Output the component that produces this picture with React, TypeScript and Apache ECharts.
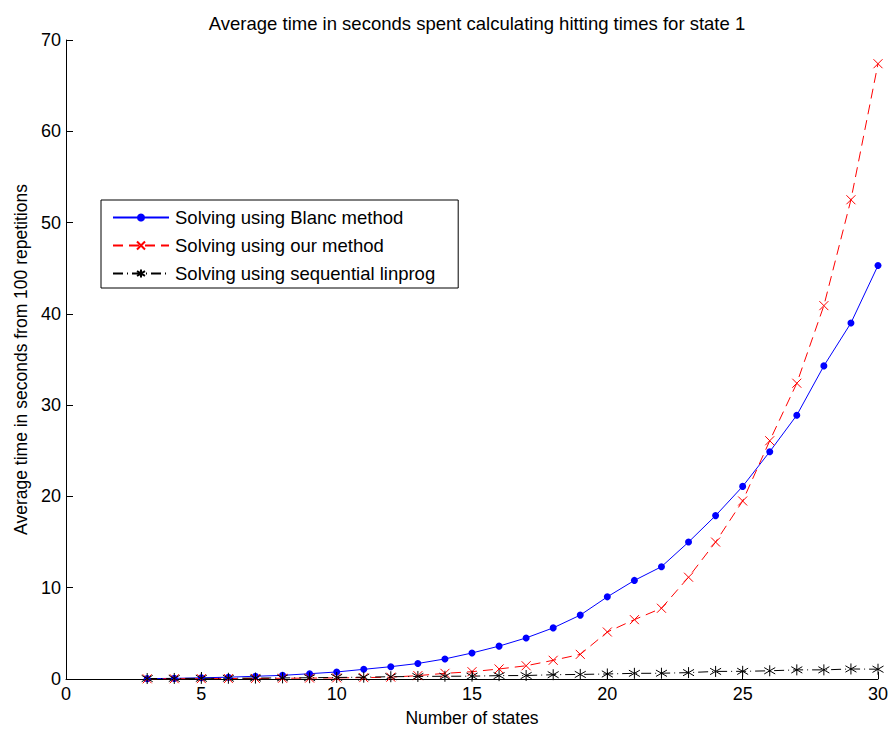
import React, { useEffect, useRef } from "react";
import * as echarts from "echarts";

const states = [3, 4, 5, 6, 7, 8, 9, 10, 11, 12, 13, 14, 15, 16, 17, 18, 19, 20, 21, 22, 23, 24, 25, 26, 27, 28, 29, 30];
const blancValues = [0.04, 0.07, 0.13, 0.2, 0.3, 0.4, 0.58, 0.77, 1.06, 1.35, 1.7, 2.2, 2.85, 3.6, 4.5, 5.6, 7.0, 9.0, 10.8, 12.3, 15.0, 17.9, 21.1, 24.9, 28.9, 34.3, 39.0, 45.3];
const ourValues = [0.02, 0.03, 0.04, 0.05, 0.06, 0.08, 0.1, 0.12, 0.15, 0.2, 0.37, 0.62, 0.8, 1.1, 1.45, 2.05, 2.7, 5.15, 6.5, 7.75, 11.15, 15.0, 19.5, 26.1, 32.4, 40.9, 52.5, 67.4];
const linprogValues = [0.05, 0.06, 0.07, 0.08, 0.1, 0.12, 0.14, 0.17, 0.2, 0.25, 0.28, 0.3, 0.31, 0.37, 0.38, 0.47, 0.5, 0.55, 0.62, 0.63, 0.7, 0.83, 0.84, 0.9, 1.0, 1.0, 1.1, 1.07];
const seriesNames = ["Solving using Blanc method", "Solving using our method", "Solving using sequential linprog"];
const titleText = "Average time in seconds spent calculating hitting times for state 1";
const xName = "Number of states";
const yName = "Average time in seconds from 100 repetitions";

const CROSS = "path://M0,0L10,10M10,0L0,10";
const STAR = "path://M5,0L5,10M0,2.1L10,7.9M10,2.1L0,7.9";

export default function App() {
  const ref = useRef<HTMLDivElement>(null);
  useEffect(() => {
    if (!ref.current) return;
    const chart = echarts.init(ref.current, undefined, { renderer: "svg" });
    const font = "Liberation Sans, Arial, Helvetica, sans-serif";
    const axisCommon = {
      axisLine: { show: true, onZero: false, lineStyle: { color: "#000", width: 1 } },
      axisTick: { show: true, inside: true, length: 7, lineStyle: { color: "#000" } },
      splitLine: { show: false },
    };
    chart.setOption({
      animation: false,
      backgroundColor: "#fff",
      textStyle: { fontFamily: font },
      title: {
        text: titleText,
        left: 472,
        textAlign: "center",
        top: 9,
        textStyle: { fontSize: 18.5, fontWeight: "normal", color: "#000", fontFamily: font },
      },
      grid: { left: 66, right: 11, top: 40, bottom: 50, containLabel: false, outerBoundsMode: "none" },
      legend: {
        left: 101,
        top: 200,
        orient: "vertical",
        backgroundColor: "#fff",
        borderColor: "#000",
        borderWidth: 1,
        borderRadius: 0,
        padding: [8, 23, 5, 11],
        itemWidth: 56,
        itemHeight: 10,
        itemGap: 9,
        textStyle: { fontSize: 18.5, color: "#000", fontFamily: font, padding: [0, 0, 0, 1] },
        data: seriesNames,
      },
      xAxis: {
        type: "value",
        min: 0,
        max: 30,
        interval: 5,
        name: xName,
        nameLocation: "middle",
        nameGap: 30,
        nameTextStyle: { fontSize: 17.5, color: "#000", fontFamily: font },
        axisLabel: { fontSize: 18, color: "#000", margin: 6, fontFamily: font },
        ...axisCommon,
      },
      yAxis: {
        type: "value",
        min: 0,
        max: 70,
        interval: 10,
        name: yName,
        nameLocation: "middle",
        nameGap: 36,
        nameTextStyle: { fontSize: 17.5, color: "#000", fontFamily: font },
        axisLabel: { fontSize: 18, color: "#000", margin: 5, fontFamily: font },
        ...axisCommon,
      },
      series: [
        {
          name: seriesNames[0],
          type: "line",
          data: states.map((s, i) => [s, blancValues[i]]),
          symbol: "circle",
          symbolSize: 7,
          itemStyle: { color: "#0000ff" },
          lineStyle: { color: "#0000ff", width: 1 },
        },
        {
          name: seriesNames[1],
          type: "line",
          data: states.map((s, i) => [s, ourValues[i]]),
          symbol: CROSS,
          symbolSize: 9,
          itemStyle: { color: "rgba(0,0,0,0)", borderColor: "#ff0000", borderWidth: 1 },
          lineStyle: { color: "#ff0000", width: 1, type: [10, 6] },
        },
        {
          name: seriesNames[2],
          type: "line",
          data: states.map((s, i) => [s, linprogValues[i]]),
          symbol: STAR,
          symbolSize: 11,
          itemStyle: { color: "rgba(0,0,0,0)", borderColor: "#000", borderWidth: 1 },
          lineStyle: { color: "#000", width: 1, type: [10, 4, 1, 4] },
        },
      ],
    });
    return () => chart.dispose();
  }, []);
  return <div ref={ref} style={{ position: "absolute", left: 0, top: 0, width: 889, height: 729 }} />;
}
